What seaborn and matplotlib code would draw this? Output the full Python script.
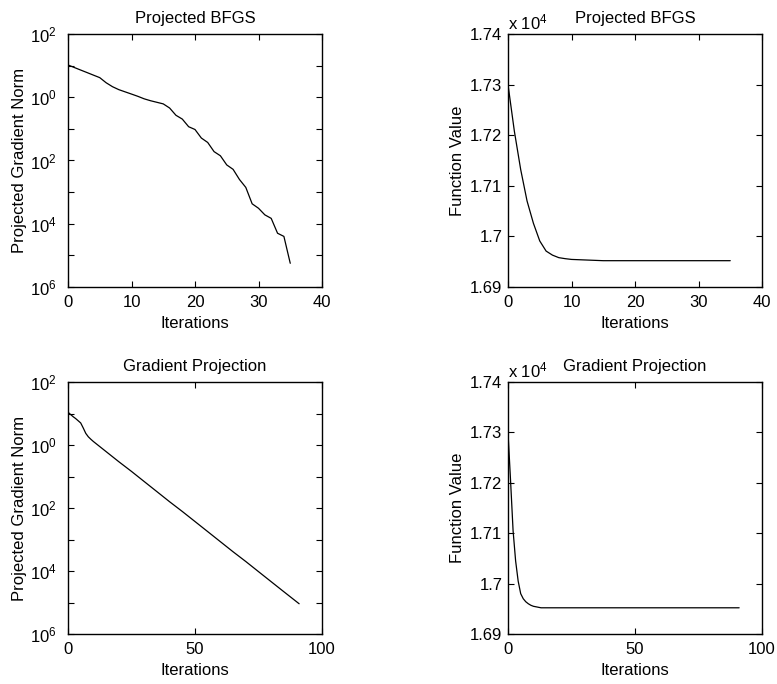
import numpy as np
import pandas as pd
import matplotlib
matplotlib.use("Agg")
import matplotlib.pyplot as plt
import matplotlib.ticker as mticker
import seaborn as sns

# ---------------- data ----------------
bfgs_iter = list(range(36))
bfgs_gradnorm = [10.5, 8.71, 7.24, 6.03, 5.01, 4.17, 2.88, 2.16, 1.74, 1.48,
                 1.26, 1.07, 0.891, 0.776, 0.692, 0.617, 0.457, 0.269, 0.204, 0.117,
                 0.0955, 0.0513, 0.0372, 0.0191, 0.0141, 0.00724, 0.00525, 0.00251, 0.00141, 4.27e-4,
                 3.09e-4, 1.91e-4, 1.48e-4, 5.01e-5, 3.98e-5, 5.62e-6]
bfgs_fval = [17300, 17208, 17132, 17070, 17026, 16991, 16971, 16963, 16958, 16956,
             16954.5, 16954, 16953.5, 16953, 16952.5] + [16952] * 21

gp_iter_norm = [0, 1, 2, 3, 4, 5, 6, 7, 8, 9, 10, 15, 20, 25, 30, 35, 40, 45,
                50, 55, 60, 65, 70, 75, 80, 85, 91]
gp_gradnorm = [11.0, 9.33, 7.94, 6.92, 5.89, 5.01, 3.47, 2.34, 1.82, 1.52, 1.29,
               0.617, 0.295, 0.145, 0.0692, 0.0331, 0.0158, 0.00776,
               0.00372, 0.00178, 8.51e-4, 4.07e-4, 2.00e-4, 9.55e-5, 4.57e-5, 2.19e-5, 9.12e-6]
gp_iter = list(range(92))
gp_fval = [17300, 17205, 17105, 17045, 17005, 16980, 16970, 16964, 16960, 16957,
           16955, 16954, 16953] + [16952] * 79

titles = ["Projected BFGS", "Projected BFGS", "Gradient Projection", "Gradient Projection"]
xlabel = "Iterations"
ylabel_norm = "Projected Gradient Norm"
ylabel_f = "Function Value"
log_tick_labels = ["$10^{6}$", "$10^{4}$", "$10^{2}$", "$10^{0}$", "$10^{2}$"]

# ---------------- style ----------------
FS = 12
sns.set_style("ticks")
plt.rcParams["font.family"] = ["Liberation Sans", "DejaVu Sans"]
plt.rcParams["mathtext.fontset"] = "custom"
plt.rcParams["mathtext.rm"] = "Liberation Sans"
plt.rcParams["mathtext.it"] = "Liberation Sans"
plt.rcParams["font.size"] = FS
plt.rcParams["axes.linewidth"] = 1.0
plt.rcParams["axes.edgecolor"] = "black"
plt.rcParams["xtick.color"] = "black"
plt.rcParams["ytick.color"] = "black"
plt.rcParams["text.color"] = "black"
plt.rcParams["axes.labelcolor"] = "black"
plt.rcParams["axes.titlecolor"] = "black"

fig = plt.figure(figsize=(7.77, 6.84), dpi=100)
W, H = 777, 684
def ax_at(x0, y0, x1, y1):
    return fig.add_axes([x0 / W, 1 - y1 / H, (x1 - x0) / W, (y1 - y0) / H])

ax1 = ax_at(68, 34, 322, 287)
ax2 = ax_at(508, 34, 762, 287)
ax3 = ax_at(68, 382, 322, 634)
ax4 = ax_at(508, 382, 762, 634)

df1 = pd.DataFrame({"it": bfgs_iter, "v": bfgs_gradnorm})
df2 = pd.DataFrame({"it": bfgs_iter, "v": bfgs_fval})
df3 = pd.DataFrame({"it": gp_iter_norm, "v": gp_gradnorm})
df4 = pd.DataFrame({"it": gp_iter, "v": gp_fval})

for ax, df in zip([ax1, ax2, ax3, ax4], [df1, df2, df3, df4]):
    sns.lineplot(data=df, x="it", y="v", ax=ax, color="black", linewidth=0.9)

def common(ax, title, xmax, xticks):
    ax.set_title(title, fontsize=FS, pad=8, color="black")
    ax.set_xlim(0, xmax)
    ax.set_xticks(xticks)
    ax.set_xlabel(xlabel, fontsize=FS, labelpad=4, color="black")
    ax.tick_params(direction="in", top=True, right=True, length=4, width=0.8,
                   labelsize=FS, labelcolor="black")
    ax.tick_params(axis="x", pad=6)
    ax.tick_params(which="minor", length=0)
    for s in ax.spines.values():
        s.set_visible(True)
        s.set_linewidth(1.0)

def lognorm(ax):
    ax.set_yscale("log")
    ax.set_ylim(1e-6, 1e2)
    ax.yaxis.set_major_locator(mticker.FixedLocator([10.0 ** k for k in range(-6, 3)]))
    ax.yaxis.set_minor_locator(mticker.NullLocator())
    labels = []
    j = 0
    for k in range(-6, 3):
        if k % 2 == 0:
            labels.append(log_tick_labels[j]); j += 1
        else:
            labels.append("")
    ax.set_yticklabels(labels)
    ax.tick_params(axis="y", pad=8)
    ax.set_ylabel(ylabel_norm, fontsize=FS, labelpad=2, color="black")

def fval(ax):
    ax.set_ylim(16900, 17400)
    ax.set_yticks([16900, 17000, 17100, 17200, 17300, 17400])
    ax.yaxis.set_major_formatter(mticker.FuncFormatter(lambda v, p: "%g" % round(v / 1e4, 4)))
    ax.tick_params(axis="y", pad=4)
    ax.set_ylabel(ylabel_f, fontsize=FS, labelpad=4, color="black")
    ax.text(0.0, 1.008, "x 10$^{4}$", transform=ax.transAxes, ha="left", va="bottom",
            fontsize=FS, color="black")

common(ax1, titles[0], 40, [0, 10, 20, 30, 40]); lognorm(ax1)
common(ax2, titles[1], 40, [0, 10, 20, 30, 40]); fval(ax2)
common(ax3, titles[2], 100, [0, 50, 100]); lognorm(ax3)
common(ax4, titles[3], 100, [0, 50, 100]); fval(ax4)

fig.savefig("out.png", dpi=100)
